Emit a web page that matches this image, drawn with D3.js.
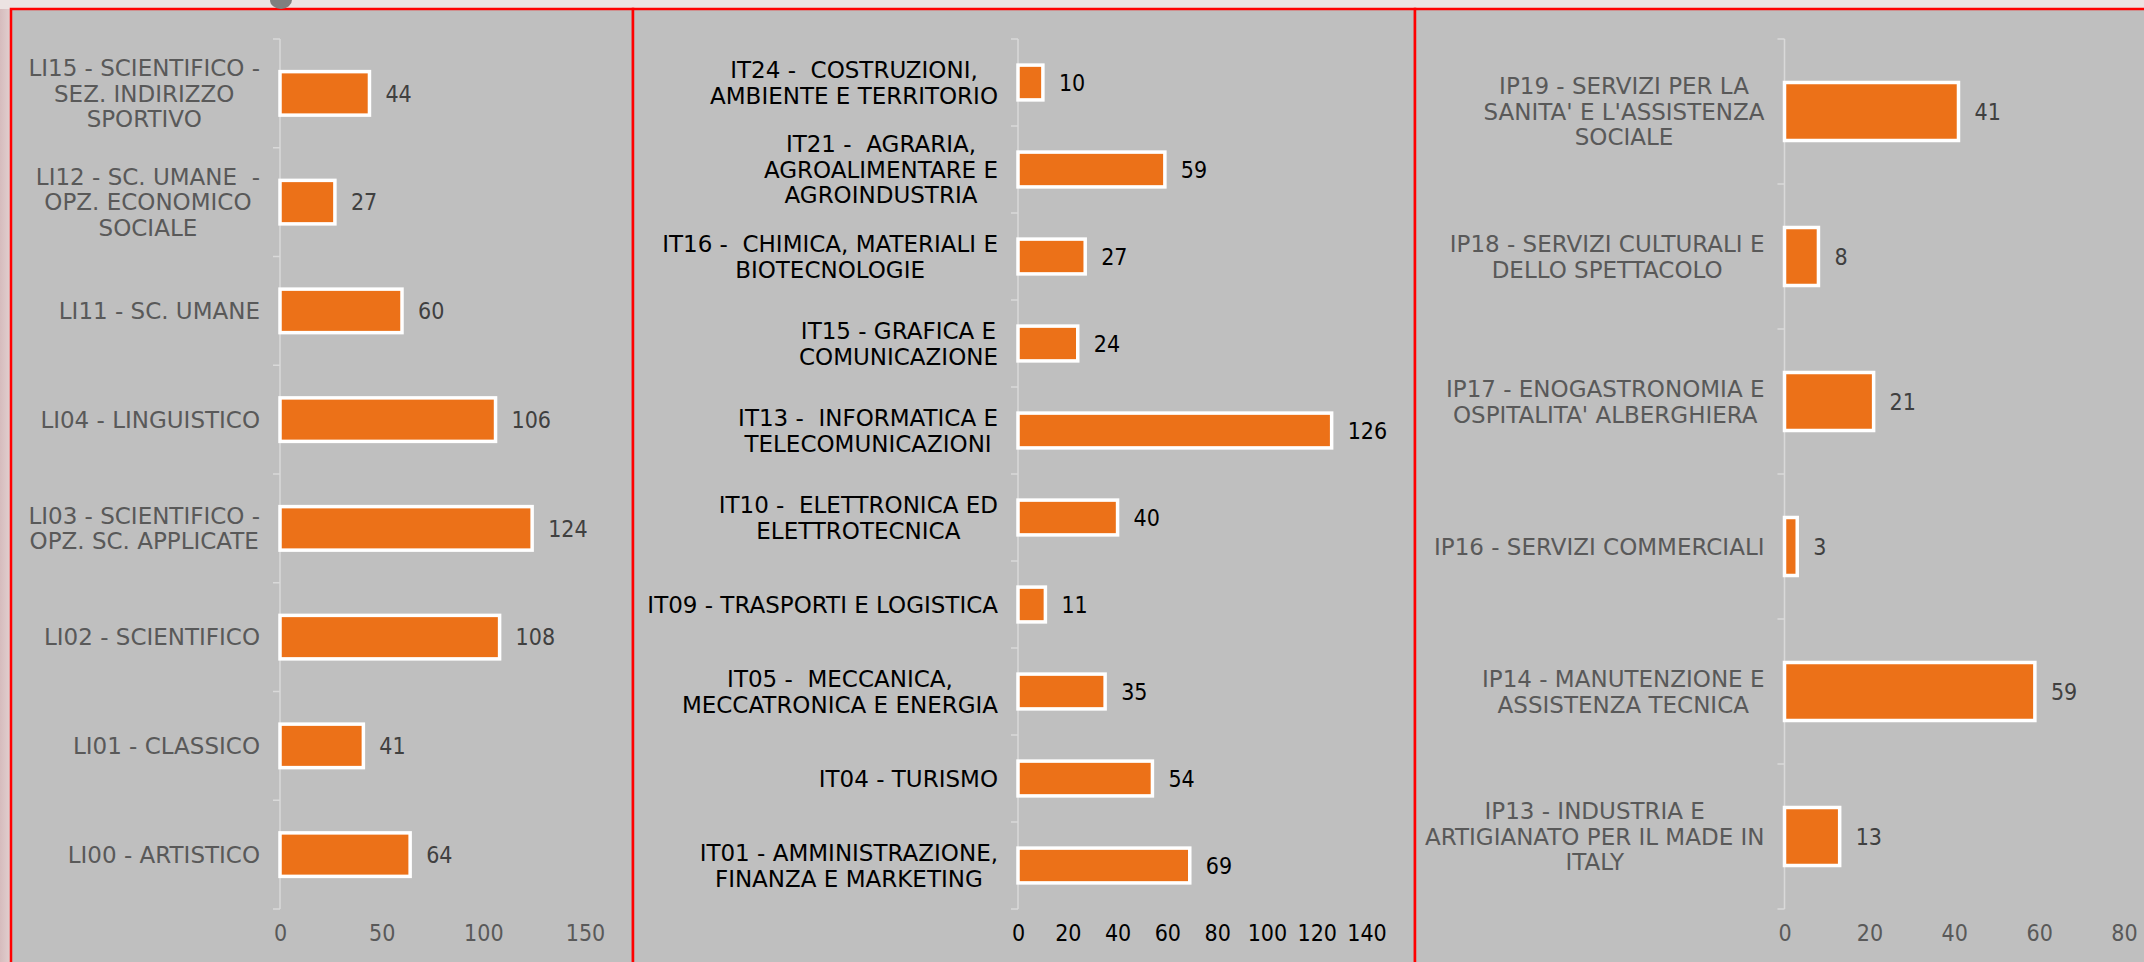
<!DOCTYPE html>
<html>
<head>
<meta charset="utf-8">
<script src="https://cdn.jsdelivr.net/npm/d3@7"></script>
<style>
  html, body { margin: 0; padding: 0; background: #ece3e2; overflow: hidden; }
  text { white-space: pre; }
</style>
</head>
<body>
<div id="chart"></div>
<script>
// indirizzi di studio - three bar panels (licei, tecnici, professionali)

const liCategories = [
  "LI15 - SCIENTIFICO -\nSEZ. INDIRIZZO\nSPORTIVO",
  "LI12 - SC. UMANE  -\nOPZ. ECONOMICO\nSOCIALE",
  "LI11 - SC. UMANE",
  "LI04 - LINGUISTICO",
  "LI03 - SCIENTIFICO -\nOPZ. SC. APPLICATE",
  "LI02 - SCIENTIFICO",
  "LI01 - CLASSICO",
  "LI00 - ARTISTICO"
];
const liValues = [44, 27, 60, 106, 124, 108, 41, 64];
const liTicks = [0, 50, 100, 150];

const itCategories = [
  "IT24 -  COSTRUZIONI,\nAMBIENTE E TERRITORIO",
  "IT21 -  AGRARIA,\nAGROALIMENTARE E\nAGROINDUSTRIA",
  "IT16 -  CHIMICA, MATERIALI E\nBIOTECNOLOGIE",
  "IT15 - GRAFICA E\nCOMUNICAZIONE",
  "IT13 -  INFORMATICA E\nTELECOMUNICAZIONI",
  "IT10 -  ELETTRONICA ED\nELETTROTECNICA",
  "IT09 - TRASPORTI E LOGISTICA",
  "IT05 -  MECCANICA,\nMECCATRONICA E ENERGIA",
  "IT04 - TURISMO",
  "IT01 - AMMINISTRAZIONE,\nFINANZA E MARKETING"
];
const itValues = [10, 59, 27, 24, 126, 40, 11, 35, 54, 69];
const itTicks = [0, 20, 40, 60, 80, 100, 120, 140];

const ipCategories = [
  "IP19 - SERVIZI PER LA\nSANITA' E L'ASSISTENZA\nSOCIALE",
  "IP18 - SERVIZI CULTURALI E\nDELLO SPETTACOLO",
  "IP17 - ENOGASTRONOMIA E\nOSPITALITA' ALBERGHIERA",
  "IP16 - SERVIZI COMMERCIALI",
  "IP14 - MANUTENZIONE E\nASSISTENZA TECNICA",
  "IP13 - INDUSTRIA E\nARTIGIANATO PER IL MADE IN\nITALY"
];
const ipValues = [41, 8, 21, 3, 59, 13];
const ipTicks = [0, 20, 40, 60, 80];

var width = 2144, height = 962;
var plotTop = 39, plotBottom = 909; // category band area
var lineH = 25.5;

var svg = d3.select("#chart").append("svg")
    .attr("width", width)
    .attr("height", height);

// page background + pinkish left strip
svg.append("rect").attr("width", width).attr("height", height).attr("fill", "#ece3e2");
var grad = svg.append("defs").append("linearGradient").attr("id", "leftStrip");
grad.append("stop").attr("offset", "0%").attr("stop-color", "#d6bcbd");
grad.append("stop").attr("offset", "100%").attr("stop-color", "#e2d0d0");
svg.append("rect").attr("x", 0).attr("y", 9).attr("width", 11).attr("height", height).attr("fill", "url(#leftStrip)");

// panels: layout only
var panels = [
  {x0: 11,   x1: 633,  axisX: 280,  axisEnd: 585,  cats: liCategories, vals: liValues, ticks: liTicks, labelColor: "#595959", valueColor: "#404040"},
  {x0: 633,  x1: 1415, axisX: 1018, axisEnd: 1366.5, cats: itCategories, vals: itValues, ticks: itTicks, labelColor: "#000000", valueColor: "#000000"},
  {x0: 1415, x1: 2160, axisX: 1784.5, axisEnd: 2124, cats: ipCategories, vals: ipValues, ticks: ipTicks, labelColor: "#595959", valueColor: "#404040"}
];

panels.forEach(function(p) {
  svg.append("rect")
      .attr("x", p.x0).attr("y", 9)
      .attr("width", p.x1 - p.x0).attr("height", height)
      .attr("fill", "#bfbfbf")
      .attr("stroke", "#ff0000").attr("stroke-width", 2.5);
});

// small grey icon cut off at the top
svg.append("path")
    .attr("d", "M270,0 A11,9 0 0 0 292,0 Z")
    .attr("fill", "#7f7f7f");

panels.forEach(function(p) {
  var g = svg.append("g");
  var x = d3.scaleLinear()
      .domain([p.ticks[0], p.ticks[p.ticks.length - 1]])
      .range([p.axisX, p.axisEnd]);
  var y = d3.scaleBand()
      .domain(p.cats)
      .range([plotTop, plotBottom])
      .paddingInner(0.6)
      .paddingOuter(0.3);
  var step = y.step();

  // x tick labels
  var xAxis = g.append("g")
      .attr("transform", "translate(0,925)")
      .call(d3.axisBottom(x).tickValues(p.ticks).tickSize(0).tickPadding(0));
  xAxis.select(".domain").remove();
  xAxis.selectAll("text")
      .attr("font-family", "'DejaVu Sans Condensed', 'DejaVu Sans', sans-serif")
      .attr("font-size", 23)
      .attr("fill", p.labelColor)
      .attr("dy", "0.71em");

  // vertical category axis with ticks at band boundaries
  g.append("line")
      .attr("x1", p.axisX).attr("x2", p.axisX)
      .attr("y1", plotTop).attr("y2", plotBottom)
      .attr("stroke", "#d9d9d9").attr("stroke-width", 1.5);
  g.selectAll(".cattick").data(d3.range(p.cats.length + 1)).join("line")
      .attr("x1", p.axisX - 7).attr("x2", p.axisX)
      .attr("y1", function(i) { return plotTop + i * step; })
      .attr("y2", function(i) { return plotTop + i * step; })
      .attr("stroke", "#d9d9d9").attr("stroke-width", 1.5);

  var data = p.cats.map(function(c, i) { return {cat: c, val: p.vals[i]}; });

  // bars
  g.selectAll(".bar").data(data).join("rect")
      .attr("x", x(0))
      .attr("y", function(d) { return y(d.cat); })
      .attr("width", function(d) { return x(d.val) - x(0); })
      .attr("height", y.bandwidth())
      .attr("fill", "#ec7118")
      .attr("stroke", "#ffffff").attr("stroke-width", 3.5);

  // value labels
  g.selectAll(".val").data(data).join("text")
      .attr("x", function(d) { return x(d.val) + 16; })
      .attr("y", function(d) { return y(d.cat) + y.bandwidth() / 2; })
      .attr("dy", "0.36em")
      .attr("font-family", "'DejaVu Sans Condensed', 'DejaVu Sans', sans-serif")
      .attr("font-size", 23)
      .attr("fill", p.valueColor)
      .text(function(d) { return d.val; });

  // category labels: block right-aligned to axis, lines centred
  var rightEdge = p.axisX - 20;
  data.forEach(function(d) {
    var lines = d.cat.split("\n");
    var cy = y(d.cat) + y.bandwidth() / 2;
    var t = g.append("text")
        .attr("font-family", "'DejaVu Sans', sans-serif")
        .attr("font-size", 23)
        .attr("fill", p.labelColor)
        .attr("text-anchor", "middle");
    var spans = lines.map(function(l, i) {
      return t.append("tspan")
          .attr("y", cy + (i - (lines.length - 1) / 2) * lineH)
          .attr("dy", "0.36em")
          .text(l);
    });
    var maxW = d3.max(spans, function(s) { return s.node().getComputedTextLength(); });
    spans.forEach(function(s) { s.attr("x", rightEdge - maxW / 2); });
  });
});
</script>
</body>
</html>
